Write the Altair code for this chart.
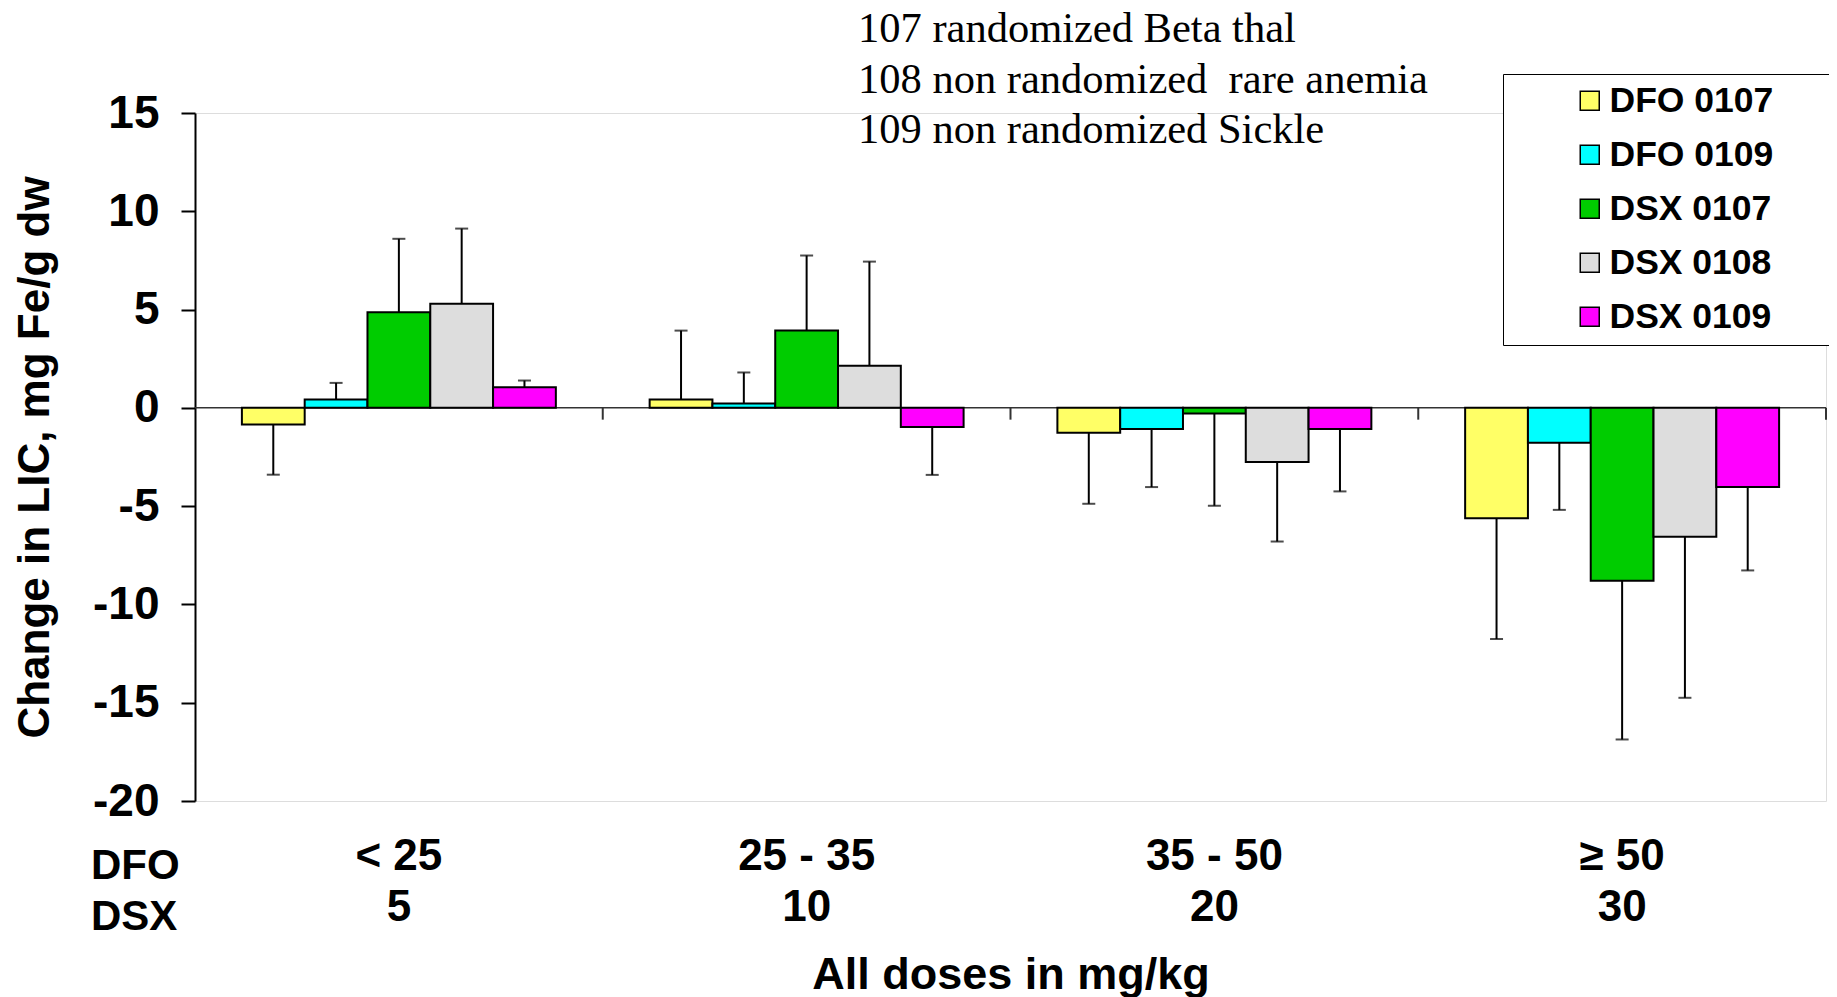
import altair as alt
import pandas as pd

# Dose groups (DFO dose | DSX dose)
groups = ["< 25|5", "25 - 35|10", "35 - 50|20", "≥ 50|30"]
series = ["DFO 0107", "DFO 0109", "DSX 0107", "DSX 0108", "DSX 0109"]
colors = ["#FFFF66", "#00FFFF", "#00CC00", "#DDDDDD", "#FF00FF"]

# Mean change in LIC per group
dfo0107_mean = [-0.85, 0.42, -1.27, -5.61]
dfo0109_mean = [0.42, 0.22, -1.07, -1.78]
dsx0107_mean = [4.87, 3.93, -0.29, -8.80]
dsx0108_mean = [5.29, 2.14, -2.75, -6.56]
dsx0109_mean = [1.05, -0.97, -1.07, -4.03]

# SD (one-sided error bar length)
dfo0107_sd = [2.55, 3.51, 3.61, 6.15]
dfo0109_sd = [0.85, 1.58, 2.96, 3.41]
dsx0107_sd = [3.73, 3.82, 4.69, 8.07]
dsx0108_sd = [3.83, 5.30, 4.05, 8.19]
dsx0109_sd = [0.34, 2.44, 3.18, 4.24]

y_ticks = [-20, -15, -10, -5, 0, 5, 10, 15]

notes = ["107 randomized Beta thal",
         "108 non randomized\u00a0 rare anemia",
         "109 non randomized Sickle"]

means = [dfo0107_mean, dfo0109_mean, dsx0107_mean, dsx0108_mean, dsx0109_mean]
sds = [dfo0107_sd, dfo0109_sd, dsx0107_sd, dsx0108_sd, dsx0109_sd]

rows = []
for s, m, e in zip(series, means, sds):
    for g, v, d in zip(groups, m, e):
        end = v + d if v >= 0 else v - d
        rows.append({"group": g, "series": s, "value": v, "end": end})
df = pd.DataFrame(rows)

W, H = 1631, 688
FONT = "Liberation Sans"
PAD_IN, PAD_OUT = 0.23, 0.115
# pixel shift from the end of a band to the boundary between bands
edge_shift = (W / len(groups)) * PAD_IN / 2

x_axis = alt.Axis(
    orient="bottom", domain=False, ticks=False, labelAngle=0,
    labelExpr="split(datum.label, '|')",
    labelFont=FONT, labelFontSize=44, labelFontWeight="bold", labelColor="black",
    labelPadding=33, labelLineHeight=51,
    title="All doses in mg/kg", titleFont=FONT, titleFontSize=45,
    titleFontWeight="bold", titleColor="black", titlePadding=23,
)
x_scale = alt.Scale(paddingInner=PAD_IN, paddingOuter=PAD_OUT)
x_enc = alt.X("group:N", sort=groups, scale=x_scale, axis=x_axis)
xo_enc = alt.XOffset("series:N", sort=series,
                     scale=alt.Scale(paddingInner=0, paddingOuter=0))
y_scale = alt.Scale(domain=[-20, 15], nice=False, zero=False)
y_axis = alt.Axis(
    values=y_ticks, grid=False, domainColor="black", domainWidth=2,
    tickColor="black", tickWidth=2, tickSize=14,
    labelExpr="'' + datum.value",
    labelFont=FONT, labelFontSize=46, labelFontWeight="bold", labelColor="black",
    labelPadding=22,
    title="Change in LIC, mg Fe/g dw", titleFont=FONT, titleFontSize=44,
    titleFontWeight="bold", titleColor="black", titlePadding=35,
)

base = alt.Chart(df)

bars = base.mark_bar(stroke="black", strokeWidth=2).encode(
    x=x_enc,
    xOffset=xo_enc,
    y=alt.Y("value:Q", scale=y_scale, axis=y_axis),
    color=alt.Color(
        "series:N", sort=series,
        scale=alt.Scale(domain=series, range=colors),
        legend=alt.Legend(
            title=" ", titleOrient="right", titleFontSize=1, titlePadding=160,
            orient="none", legendX=1308, legendY=-39,
            strokeColor="black", fillColor="white", padding=9,
            symbolType="square", symbolSize=361, symbolStrokeColor="black",
            symbolStrokeWidth=1.5, symbolOpacity=1, symbolOffset=60,
            labelFont=FONT, labelFontSize=35.5, labelFontWeight="bold",
            labelColor="black", labelOffset=2, rowPadding=17,
            labelLimit=600,
        ),
    ),
)

err = base.mark_rule(color="black", strokeWidth=2).encode(
    x=x_enc, xOffset=xo_enc,
    y=alt.Y("value:Q", scale=y_scale, axis=y_axis),
    y2="end:Q",
)

caps = base.mark_tick(color="black", thickness=2, size=13).encode(
    x=x_enc, xOffset=xo_enc,
    y=alt.Y("end:Q", scale=y_scale, axis=y_axis),
)

zero_line = alt.Chart(pd.DataFrame({"v": [0]})).mark_rule(
    color="#333333", strokeWidth=1.5
).encode(y=alt.datum(0, scale=y_scale), x=alt.value(0), x2=alt.value(W))

band_ticks = alt.Chart(pd.DataFrame({"group": groups})).mark_rule(
    color="#333333", strokeWidth=2, xOffset=edge_shift
).encode(
    x=alt.X("group:N", sort=groups, bandPosition=1, axis=x_axis,
            scale=x_scale),
    y=alt.datum(0), y2=alt.datum(-0.6),
)

note_text = alt.Chart(pd.DataFrame({"v": [0]})).mark_text(
    text=notes, font="Liberation Serif", fontSize=42.5, align="left",
    baseline="top", lineHeight=50.5, color="black"
).encode(x=alt.value(663), y=alt.value(-105))

dose_text = alt.Chart(pd.DataFrame({"v": [0]})).mark_text(
    text=["DFO", "DSX"], font=FONT, fontSize=42, fontWeight="bold",
    align="left", baseline="top", lineHeight=51, color="black"
).encode(x=alt.value(-104), y=alt.value(733))

chart = alt.layer(
    zero_line, band_ticks, err, caps, bars, note_text, dose_text
).properties(
    width=W, height=H,
    autosize=alt.AutoSizeParams(type="none"),
    padding={"left": 187, "top": 105, "right": 3, "bottom": 196},
).configure_view(stroke=None).configure(background="white")

chart.save("out.html", embed_options={"renderer": "svg", "actions": False})
